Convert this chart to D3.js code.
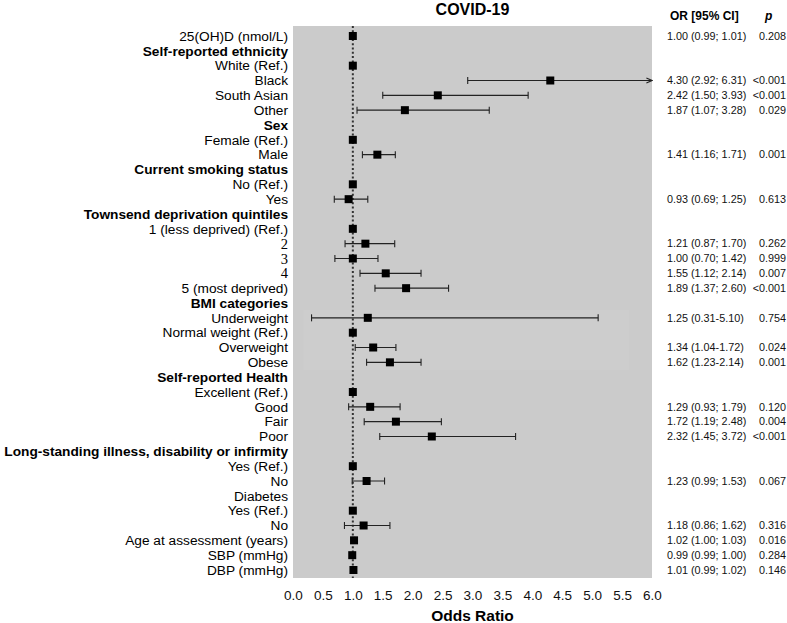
<!DOCTYPE html>
<html>
<head>
<meta charset="utf-8">
<script src="https://cdn.jsdelivr.net/npm/d3@7"></script>
<style>
  body { margin: 0; background: #fff; }
  text { font-family: "Liberation Sans", Arial, sans-serif; }
</style>
</head>
<body>
<div id="chart"></div>
<script>
// row labels, top to bottom
let labels = [
  "25(OH)D (nmol/L)", "Self-reported ethnicity", "White (Ref.)", "Black", "South Asian", "Other",
  "Sex", "Female (Ref.)", "Male",
  "Current smoking status", "No (Ref.)", "Yes",
  "Townsend deprivation quintiles", "1 (less deprived)  (Ref.)", "2", "3", "4", "5 (most deprived)",
  "BMI categories", "Underweight", "Normal weight (Ref.)", "Overweight", "Obese",
  "Self-reported Health", "Excellent (Ref.)", "Good", "Fair", "Poor",
  "Long-standing illness, disability or infirmity", "Yes (Ref.)", "No",
  "Diabetes", "Yes (Ref.)", "No",
  "Age at assessment (years)", "SBP (mmHg)", "DBP (mmHg)"
]
let boldRows = [1, 6, 9, 12, 18, 23, 28]
let serifRows = [14, 15, 16]

// odds ratios and 95% CI (null = no marker)
let oddsRatio = [1.00, null, 1.00, 4.30, 2.42, 1.87, null, 1.00, 1.41, null, 1.00, 0.93,
  null, 1.00, 1.21, 1.00, 1.55, 1.89, null, 1.25, 1.00, 1.34, 1.62,
  null, 1.00, 1.29, 1.72, 2.32, null, 1.00, 1.23, null, 1.00, 1.18, 1.02, 0.99, 1.01]
let ciLow = [0.99, null, null, 2.92, 1.50, 1.07, null, null, 1.16, null, null, 0.69,
  null, null, 0.87, 0.70, 1.12, 1.37, null, 0.31, null, 1.04, 1.23,
  null, null, 0.93, 1.19, 1.45, null, null, 0.99, null, null, 0.86, 1.00, 0.99, 0.99]
let ciHigh = [1.01, null, null, 6.31, 3.93, 3.28, null, null, 1.71, null, null, 1.25,
  null, null, 1.70, 1.42, 2.14, 2.60, null, 5.10, null, 1.72, 2.14,
  null, null, 1.79, 2.48, 3.72, null, null, 1.53, null, null, 1.62, 1.03, 1.00, 1.02]
let ciText = ["1.00 (0.99; 1.01)", "", "", "4.30 (2.92; 6.31)", "2.42 (1.50; 3.93)", "1.87 (1.07; 3.28)",
  "", "", "1.41 (1.16; 1.71)", "", "", "0.93 (0.69; 1.25)",
  "", "", "1.21 (0.87; 1.70)", "1.00 (0.70; 1.42)", "1.55 (1.12; 2.14)", "1.89 (1.37; 2.60)",
  "", "1.25 (0.31-5.10)", "", "1.34 (1.04-1.72)", "1.62 (1.23-2.14)",
  "", "", "1.29 (0.93; 1.79)", "1.72 (1.19; 2.48)", "2.32 (1.45; 3.72)",
  "", "", "1.23 (0.99; 1.53)", "", "", "1.18 (0.86; 1.62)",
  "1.02 (1.00; 1.03)", "0.99 (0.99; 1.00)", "1.01 (0.99; 1.02)"]
let pText = ["0.208", "", "", "<0.001", "<0.001", "0.029", "", "", "0.001", "", "", "0.613",
  "", "", "0.262", "0.999", "0.007", "<0.001", "", "0.754", "", "0.024", "0.001",
  "", "", "0.120", "0.004", "<0.001", "", "", "0.067", "", "", "0.316",
  "0.016", "0.284", "0.146"]
let xTicks = [0, 0.5, 1, 1.5, 2, 2.5, 3, 3.5, 4, 4.5, 5, 5.5, 6]

let width = 787
let height = 623
let panel = { left: 293, right: 652, top: 26, bottom: 578 }

let svg = d3.select("#chart")
  .append("svg")
  .attr("width", width)
  .attr("height", height)

let x = d3.scaleLinear()
  .domain([0, 6])
  .range([panel.left, panel.right])

let y = d3.scalePoint()
  .domain(d3.range(labels.length))
  .range([36, 570])

let rows = labels.map((d, i) => ({
  i: i, label: d, or: oddsRatio[i], lo: ciLow[i], hi: ciHigh[i], ci: ciText[i], p: pText[i]
}))

svg.append("defs").append("marker")
  .attr("id", "arrow")
  .attr("viewBox", "0 0 10 10")
  .attr("refX", 9).attr("refY", 5)
  .attr("markerWidth", 7).attr("markerHeight", 7)
  .attr("markerUnits", "userSpaceOnUse")
  .attr("orient", "auto")
  .append("path")
  .attr("d", "M1,1.5 L9,5 L1,8.5")
  .attr("fill", "none")
  .attr("stroke", "#222")
  .attr("stroke-width", 1.6)

// grey panel
svg.append("rect")
  .attr("x", panel.left)
  .attr("y", panel.top)
  .attr("width", panel.right - panel.left)
  .attr("height", panel.bottom - panel.top)
  .attr("fill", "#cbcbcb")

// slightly lighter patch behind the BMI block
svg.append("rect")
  .attr("x", x(0.17))
  .attr("y", y(19) - 8)
  .attr("width", x(5.62) - x(0.17))
  .attr("height", y(22) - y(19) + 16)
  .attr("fill", "#cdcdcd")

// reference line at 1
svg.append("line")
  .attr("x1", x(1)).attr("x2", x(1))
  .attr("y1", panel.top).attr("y2", panel.bottom)
  .attr("stroke", "#333")
  .attr("stroke-width", 2)
  .attr("stroke-dasharray", "2,2.3")

let withCI = rows.filter(d => d.lo != null && d.hi - d.lo > 0.03)

let ci = svg.append("g")
  .attr("stroke", "#222")
  .attr("stroke-width", 1.1)

ci.selectAll("line.ci")
  .data(withCI)
  .enter().append("line")
    .attr("class", "ci")
    .attr("x1", d => x(d.lo))
    .attr("x2", d => x(Math.min(d.hi, 6)))
    .attr("y1", d => y(d.i))
    .attr("y2", d => y(d.i))
    .attr("marker-end", d => d.hi > 6 ? "url(#arrow)" : null)

ci.selectAll("line.capL")
  .data(withCI)
  .enter().append("line")
    .attr("class", "capL")
    .attr("x1", d => x(d.lo)).attr("x2", d => x(d.lo))
    .attr("y1", d => y(d.i) - 3.5).attr("y2", d => y(d.i) + 3.5)

ci.selectAll("line.capR")
  .data(withCI.filter(d => d.hi <= 6))
  .enter().append("line")
    .attr("class", "capR")
    .attr("x1", d => x(d.hi)).attr("x2", d => x(d.hi))
    .attr("y1", d => y(d.i) - 3.5).attr("y2", d => y(d.i) + 3.5)

svg.append("g")
  .selectAll("rect")
  .data(rows.filter(d => d.or != null))
  .enter().append("rect")
    .attr("x", d => x(d.or) - 4)
    .attr("y", d => y(d.i) - 4)
    .attr("width", 8)
    .attr("height", 8)
    .attr("fill", "#000")

// left labels
svg.append("g")
  .attr("text-anchor", "end")
  .style("font-size", "13.7px")
  .selectAll("text")
  .data(rows)
  .enter().append("text")
    .attr("x", 288)
    .attr("y", d => y(d.i))
    .attr("dy", "0.35em")
    .attr("font-weight", d => boldRows.includes(d.i) ? "bold" : "normal")
    .style("font-family", d => serifRows.includes(d.i) ? "'Liberation Serif', 'Times New Roman', serif" : null)
    .style("font-size", d => serifRows.includes(d.i) ? "14.5px" : null)
    .text(d => d.label)

// right columns
let right = svg.append("g")
  .style("font-size", "10.8px")
  .attr("fill", "#111")

right.selectAll("text.ci")
  .data(rows.filter(d => d.ci))
  .enter().append("text")
    .attr("class", "ci")
    .attr("x", 667)
    .attr("y", d => y(d.i))
    .attr("dy", "0.35em")
    .text(d => d.ci)

right.selectAll("text.p")
  .data(rows.filter(d => d.p))
  .enter().append("text")
    .attr("class", "p")
    .attr("x", 786)
    .attr("y", d => y(d.i))
    .attr("dy", "0.35em")
    .attr("text-anchor", "end")
    .text(d => d.p)

svg.append("text")
  .attr("x", 670).attr("y", 20)
  .style("font-size", "12px")
  .attr("font-weight", "bold")
  .text("OR  [95% CI]")

svg.append("text")
  .attr("x", 765).attr("y", 20)
  .style("font-size", "12px")
  .attr("font-weight", "bold")
  .attr("font-style", "italic")
  .text("p")

svg.append("text")
  .attr("x", (panel.left + panel.right) / 2)
  .attr("y", 15)
  .attr("text-anchor", "middle")
  .style("font-size", "16px")
  .attr("font-weight", "bold")
  .text("COVID-19")

// x axis
let xAxis = g => g
  .attr("transform", `translate(0,${panel.bottom})`)
  .call(d3.axisBottom(x).tickValues(xTicks).tickFormat(d3.format(".1f")).tickSize(0).tickPadding(12))
  .call(g => g.select(".domain").remove())
  .call(g => g.selectAll("text")
    .style("font-size", "13.5px")
    .style("font-family", "'Liberation Sans', Arial, sans-serif")
    .attr("fill", "#111"))

svg.append("g")
  .call(xAxis)

svg.append("text")
  .attr("x", (panel.left + panel.right) / 2)
  .attr("y", 621)
  .attr("text-anchor", "middle")
  .style("font-size", "15.5px")
  .attr("font-weight", "bold")
  .text("Odds Ratio")
</script>
</body>
</html>
